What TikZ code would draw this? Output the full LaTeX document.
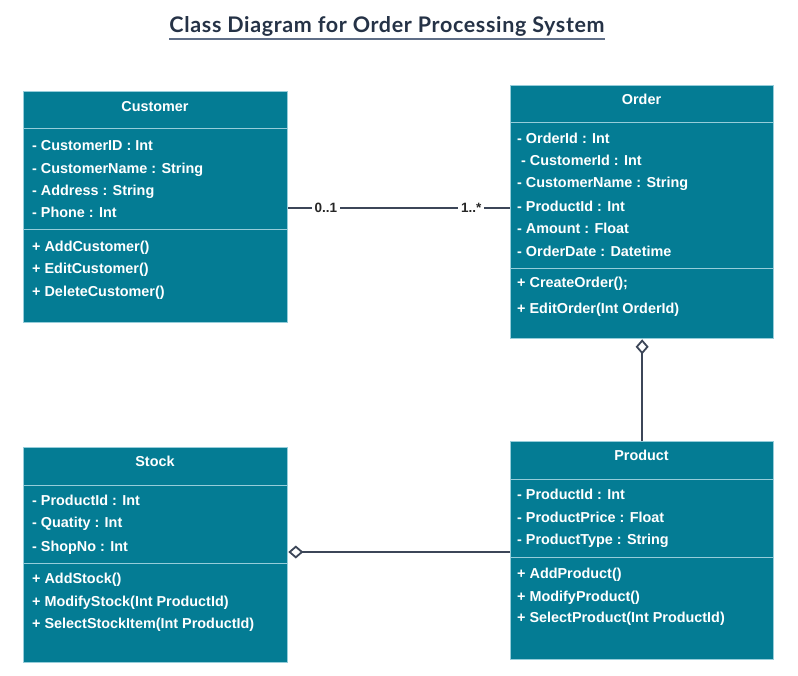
\documentclass[tikz,border=0pt]{standalone}
\usepackage{fontspec}
\setmainfont{Liberation Sans}
\newfontfamily\titlefont[LetterSpace=3]{Lato}
\usetikzlibrary{arrows.meta,calc}
\definecolor{teal1}{RGB}{4,124,148}
\definecolor{bord}{RGB}{150,205,218}
\definecolor{conn}{RGB}{60,70,88}
\definecolor{ttl}{RGB}{37,50,70}
\definecolor{ttlline}{RGB}{95,110,135}
\tikzset{
  comp/.style={draw=bord, fill=teal1, line width=1.3pt, rectangle, inner sep=0pt, anchor=north west},
  txt/.style={text=white, font=\bfseries\fontsize{14.4}{17}\selectfont, inner sep=0pt, anchor=base west},
  hdr/.style={text=white, font=\bfseries\fontsize{14.4}{17}\selectfont, inner sep=0pt, anchor=base},
  assoc/.style={draw=conn, line width=2pt},
  mult/.style={fill=white, text=black!85, font=\bfseries\fontsize{13.5}{15}\selectfont, inner sep=3pt},
  agg/.style={draw=conn, line width=2pt, -{Diamond[fill=white, length=15pt, width=13pt, line width=1.8pt]}}
}
\begin{document}
\begin{tikzpicture}[x=1pt,y=-1pt]
\useasboundingbox (0,0) rectangle (798,675);
% Title
\node[font=\titlefont\bfseries\fontsize{21.5}{24}\selectfont, text=ttl, anchor=base, inner sep=0pt] (title) at (387,32) {Class Diagram for Order Processing System};
\draw[ttlline, line width=2pt] ($(title.base west)+(0,6.8)$) coordinate (ul1) -- ($(title.base east)+(0,6.8)$) coordinate (ul2);

% Customer
\node[comp, minimum width=264pt, minimum height=37pt] (chead) at (23,91) {};
\node[comp, minimum width=264pt, minimum height=101pt] (cattr) at (23,128) {};
\node[comp, minimum width=264pt, minimum height=93pt] (cmeth) at (23,229) {};
\node[hdr] (ctitle) at (155,111) {Customer};
\foreach \myy/\mytext [count=\i] in {150/- CustomerID : Int, 173/- CustomerName : String, 195/- Address : String, 217/- Phone : Int}
  \node[txt] (ca\i) at (32,\myy) {\mytext};
\foreach \myy/\mytext [count=\i] in {251/+ AddCustomer(), 273/+ EditCustomer(), 296/+ DeleteCustomer()}
  \node[txt] (cm\i) at (32,\myy) {\mytext};

% Order
\node[comp, minimum width=263pt, minimum height=37pt] (ohead) at (510,85) {};
\node[comp, minimum width=263pt, minimum height=146pt] (oattr) at (510,122) {};
\node[comp, minimum width=263pt, minimum height=70pt] (ometh) at (510,268) {};
\node[hdr] (otitle) at (641.5,104) {Order};
\foreach \myy/\mytext [count=\i] in {143/- OrderId : Int, 165/\hspace{4pt}- CustomerId : Int, 187/- CustomerName : String, 211/- ProductId : Int, 233/- Amount : Float, 256/- OrderDate : Datetime}
  \node[txt] (oa\i) at (517,\myy) {\mytext};
\foreach \myy/\mytext [count=\i] in {287/+ CreateOrder();, 313/+ EditOrder(Int OrderId)}
  \node[txt] (om\i) at (517,\myy) {\mytext};

% Stock
\node[comp, minimum width=264pt, minimum height=38pt] (shead) at (23,447) {};
\node[comp, minimum width=264pt, minimum height=78pt] (sattr) at (23,485) {};
\node[comp, minimum width=264pt, minimum height=99pt] (smeth) at (23,563) {};
\node[hdr] (stitle) at (155,466) {Stock};
\foreach \myy/\mytext [count=\i] in {505/- ProductId : Int, 527/- Quatity : Int, 551/- ShopNo : Int}
  \node[txt] (sa\i) at (32,\myy) {\mytext};
\foreach \myy/\mytext [count=\i] in {583/+ AddStock(), 606/+ ModifyStock(Int ProductId), 628/+ SelectStockItem(Int ProductId)}
  \node[txt] (sm\i) at (32,\myy) {\mytext};

% Product
\node[comp, minimum width=263pt, minimum height=38pt] (phead) at (510,441) {};
\node[comp, minimum width=263pt, minimum height=78pt] (pattr) at (510,479) {};
\node[comp, minimum width=263pt, minimum height=102pt] (pmeth) at (510,557) {};
\node[hdr] (ptitle) at (641.5,460) {Product};
\foreach \myy/\mytext [count=\i] in {499/- ProductId : Int, 522/- ProductPrice : Float, 544/- ProductType : String}
  \node[txt] (pa\i) at (517,\myy) {\mytext};
\foreach \myy/\mytext [count=\i] in {578/+ AddProduct(), 601/+ ModifyProduct(), 622/+ SelectProduct(Int ProductId)}
  \node[txt] (pm\i) at (517,\myy) {\mytext};

% Connectors
\coordinate (assocY) at (0,208);
\coordinate (aggY) at (0,552);
\draw[assoc] (cattr.east |- assocY) -- node[mult, pos=0.17] (m01) {0..1} node[mult, pos=0.825] (m1n) {1..*} (oattr.west |- assocY);
\draw[agg] (phead.north) -- (ometh.south);
\draw[agg] (pattr.west |- aggY) -- (sattr.east |- aggY);
\end{tikzpicture}
\end{document}
